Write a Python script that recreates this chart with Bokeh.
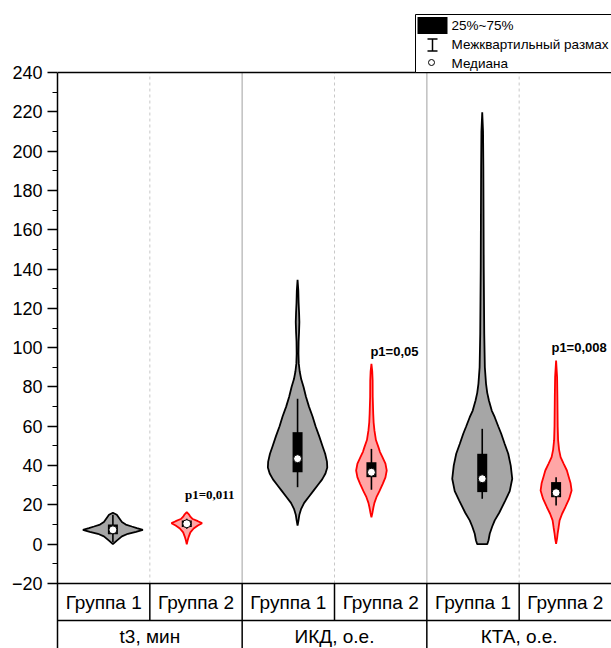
from bokeh.plotting import figure
from bokeh.models import Range1d, FixedTicker
from bokeh.core.properties import value
from bokeh.embed import file_html
from bokeh.resources import INLINE

# ---------------- data ----------------
groups = ["t3, мин", "ИКД, о.е.", "КТА, о.е."]
subgroups = ["Группа 1", "Группа 2"]
y_ticks = [-20, 0, 20, 40, 60, 80, 100, 120, 140, 160, 180, 200, 220, 240]
y_minor = [-10, 10, 30, 50, 70, 90, 110, 130, 150, 170, 190, 210, 230]

# violin outlines: value levels and relative density (half-width)
v1_y = [0, 1.8, 4, 5.3, 6.3, 7.3, 8.2, 9, 10, 11.3, 13.5, 15, 16]
v1_d = [0, .13, .30, .50, .77, 1.0, .80, .63, .43, .30, .20, .13, 0]

v2_y = [0, 2, 4, 6, 8, 9.5, 10.7, 11.7, 12.8, 14, 15.2, 16.3]
v2_d = [0, .03, .07, .12, .23, .37, .51, .37, .20, .12, .07, 0]

v3_y = [9.5, 12, 15, 18, 21, 24, 27, 30, 33, 36, 39, 42, 46, 50, 55, 60, 65, 70,
        75, 80, 84, 88, 92, 97, 103, 108, 113, 118, 123, 129, 134.5]
v3_d = [0, .03, .06, .12, .22, .37, .52, .67, .82, .93, .99, .98, .92, .83, .72, .60,
        .50, .38, .28, .20, .12, .07, .04, .03, .035, .05, .06, .05, .035, .025, 0]

v4_y = [13.7, 16, 18.8, 21, 23.9, 27, 30.7, 34, 37.5, 41, 44.3, 47, 49.4, 53, 57.9,
        62, 66.4, 75, 83.3, 88, 91.8]
v4_d = [0, .033, .067, .10, .167, .267, .377, .467, .51, .467, .367, .283, .233, .15,
        .10, .073, .06, .043, .04, .027, 0]

v5_y = [0, 2, 5.3, 9, 12.1, 16, 22.2, 27, 33.3, 40, 46, 51, 56.2, 60, 64.6, 68, 73.1,
        77, 81.6, 90, 107, 141, 170, 192, 210, 219.8]
v5_d = [.167, .21, .25, .333, .417, .567, .767, .917, 1.0, .95, .867, .75, .633, .533,
        .417, .317, .223, .167, .127, .087, .067, .05, .043, .037, .027, 0]

v6_y = [0.2, 3, 5.3, 8.5, 12.1, 15.5, 18.8, 23, 27.3, 31, 34.5, 37.5, 41, 44.3, 48,
        52.8, 60, 74.8, 85, 93.5]
v6_d = [0, .033, .05, .083, .117, .20, .307, .433, .517, .483, .417, .36, .25, .15,
        .10, .067, .053, .043, .033, 0]

q1 = [5.0, 8.7, 36.6, 34.1, 26.5, 23.9]
q3 = [10.0, 12.0, 57.0, 41.7, 46.0, 31.6]
median = [7.3, 10.4, 43.5, 36.6, 33.3, 26.2]
whisk_lo = [1.0, 7.8, 29.0, 27.7, 23.1, 19.7]
whisk_hi = [15.0, 13.0, 74.0, 48.5, 58.7, 34.0]
p_labels = ["p1=0,011", "p1=0,05", "p1=0,008"]

# ---------------- geometry / style ----------------
W, H = 611, 648
LEFT = 57
KX = (W - LEFT) / 6.0
KY = 511.0 / 260.0
Y_MAX = 240 + 72 / KY
Y_MIN = Y_MAX - H / KY
Y_ROW = -20 - 37 / KY
HALF_W = 30 / KX
OFFSET = 0.1
GRAY_FILL, GRAY_LINE = "#a6a6a6", "black"
RED_FILL, RED_LINE = "#ffa6a6", "#ff0000"
FONT = "Liberation Sans"


def fx(px):
    return px / KX


def fy(py):
    return Y_MAX - py / KY


p = figure(width=W, height=H, x_range=Range1d(0, 6), y_range=Range1d(Y_MIN, Y_MAX),
           output_backend="svg", toolbar_location=None, x_axis_location=None,
           min_border_left=LEFT, min_border_right=0, min_border_top=0,
           min_border_bottom=0, title=None)
p.xgrid.visible = False
p.ygrid.visible = False
p.outline_line_color = None

ax = p.yaxis[0]
ax.ticker = FixedTicker(ticks=y_ticks, minor_ticks=y_minor)
ax.bounds = (Y_MIN, 240)
ax.axis_line_width = 1.5
ax.axis_line_color = "black"
ax.major_tick_in = 0
ax.major_tick_out = 10
ax.minor_tick_in = 0
ax.minor_tick_out = 5
ax.major_tick_line_width = 1.5
ax.minor_tick_line_width = 1.2
ax.major_label_text_font = FONT
ax.major_label_text_font_size = "18px"
ax.major_label_text_color = "black"
ax.major_label_standoff = 5

# separators inside the plot
p.segment(x0=[2, 4], y0=[-20, -20], x1=[2, 4], y1=[240, 240],
          line_color="#c0c0c0", line_width=1.5)
p.segment(x0=[1, 3, 5], y0=[-20] * 3, x1=[1, 3, 5], y1=[240] * 3,
          line_color="#c8c8c8", line_width=1, line_dash="3 3")

# violins
profiles = [(v1_y, v1_d), (v2_y, v2_d), (v3_y, v3_d), (v4_y, v4_d), (v5_y, v5_d), (v6_y, v6_d)]
centers = []
for i, (ys, ds) in enumerate(profiles):
    sub = i % 2
    c = i + 0.5 + (OFFSET if sub == 0 else -OFFSET)
    centers.append(c)
    xs = [c - d * HALF_W for d in ds] + [c + d * HALF_W for d in ds[::-1]]
    yy = list(ys) + list(ys[::-1])
    p.patch(xs, yy, fill_color=GRAY_FILL if sub == 0 else RED_FILL,
            line_color=GRAY_LINE if sub == 0 else RED_LINE, line_width=1.8)

p.segment(x0=centers, y0=whisk_lo, x1=centers, y1=whisk_hi, line_color="black", line_width=1.6)
p.vbar(x=centers, width=10 / KX, top=q3, bottom=q1, fill_color="black", line_color=None)
p.scatter(x=centers, y=median, size=8, fill_color="white", line_color="black", line_width=1)

# p labels
tops = [v2_y[-1], v4_y[-1], v6_y[-1]]
red_c = [centers[1], centers[3], centers[5]]
p.text(x=red_c[:1], y=tops[:1], text=p_labels[:1], x_offset=23, y_offset=-10,
       text_align="center", text_baseline="bottom", text_font=value("Liberation Serif"),
       text_font_style="bold", text_font_size="13px", text_color="black")
p.text(x=red_c[1:], y=tops[1:], text=p_labels[1:], x_offset=23, y_offset=-5,
       text_align="center", text_baseline="bottom", text_font=value(FONT),
       text_font_style="bold", text_font_size="13px", text_color="black")

# frame lines
p.segment(x0=[0, 0], y0=[240, -20], x1=[6, 6], y1=[240, -20], line_color="black", line_width=1.5)

# table below
p.segment(x0=[0], y0=[Y_ROW], x1=[6], y1=[Y_ROW], line_color="black", line_width=1.5)
p.segment(x0=[1, 2, 3, 4, 5], y0=[-20] * 5, x1=[1, 2, 3, 4, 5], y1=[Y_ROW] * 5,
          line_color="black", line_width=1.5)
p.segment(x0=[2, 4], y0=[Y_ROW] * 2, x1=[2, 4], y1=[Y_MIN] * 2,
          line_color="black", line_width=1.5)
p.text(x=[i + 0.5 for i in range(6)], y=[(-20 + Y_ROW) / 2] * 6,
       text=[subgroups[i % 2] for i in range(6)], text_align="center",
       text_baseline="middle", text_font=value(FONT), text_font_size="19px",
       text_color="black")
p.text(x=[1, 3, 5], y=[(Y_ROW + Y_MIN) / 2 - 1] * 3, text=groups, text_align="center",
       text_baseline="middle", text_font=value(FONT), text_font_size="19px",
       text_color="black")

# legend (drawn manually)
p.quad(left=[fx(358)], right=[fx(560)], top=[fy(14)], bottom=[fy(72)],
       fill_color="white", line_color="black", line_width=1)
p.quad(left=[fx(360)], right=[fx(390)], top=[fy(16.5)], bottom=[fy(33.5)],
       fill_color="black", line_color=None)
p.segment(x0=[fx(375), fx(370), fx(370)], y0=[fy(38.5), fy(38.5), fy(50.5)],
          x1=[fx(375), fx(380), fx(380)], y1=[fy(50.5), fy(38.5), fy(50.5)],
          line_color="black", line_width=1.5)
p.scatter(x=[fx(374)], y=[fy(62)], size=6, fill_color="white", line_color="black", line_width=1)
p.text(x=[fx(394)] * 3, y=[fy(25), fy(43.5), fy(62.5)],
       text=["25%~75%", "Межквартильный размах", "Медиана"], text_align="left",
       text_baseline="middle", text_font=value(FONT), text_font_size="13.5px",
       text_color="black")

open("out.html", "w").write(file_html(p, INLINE))
